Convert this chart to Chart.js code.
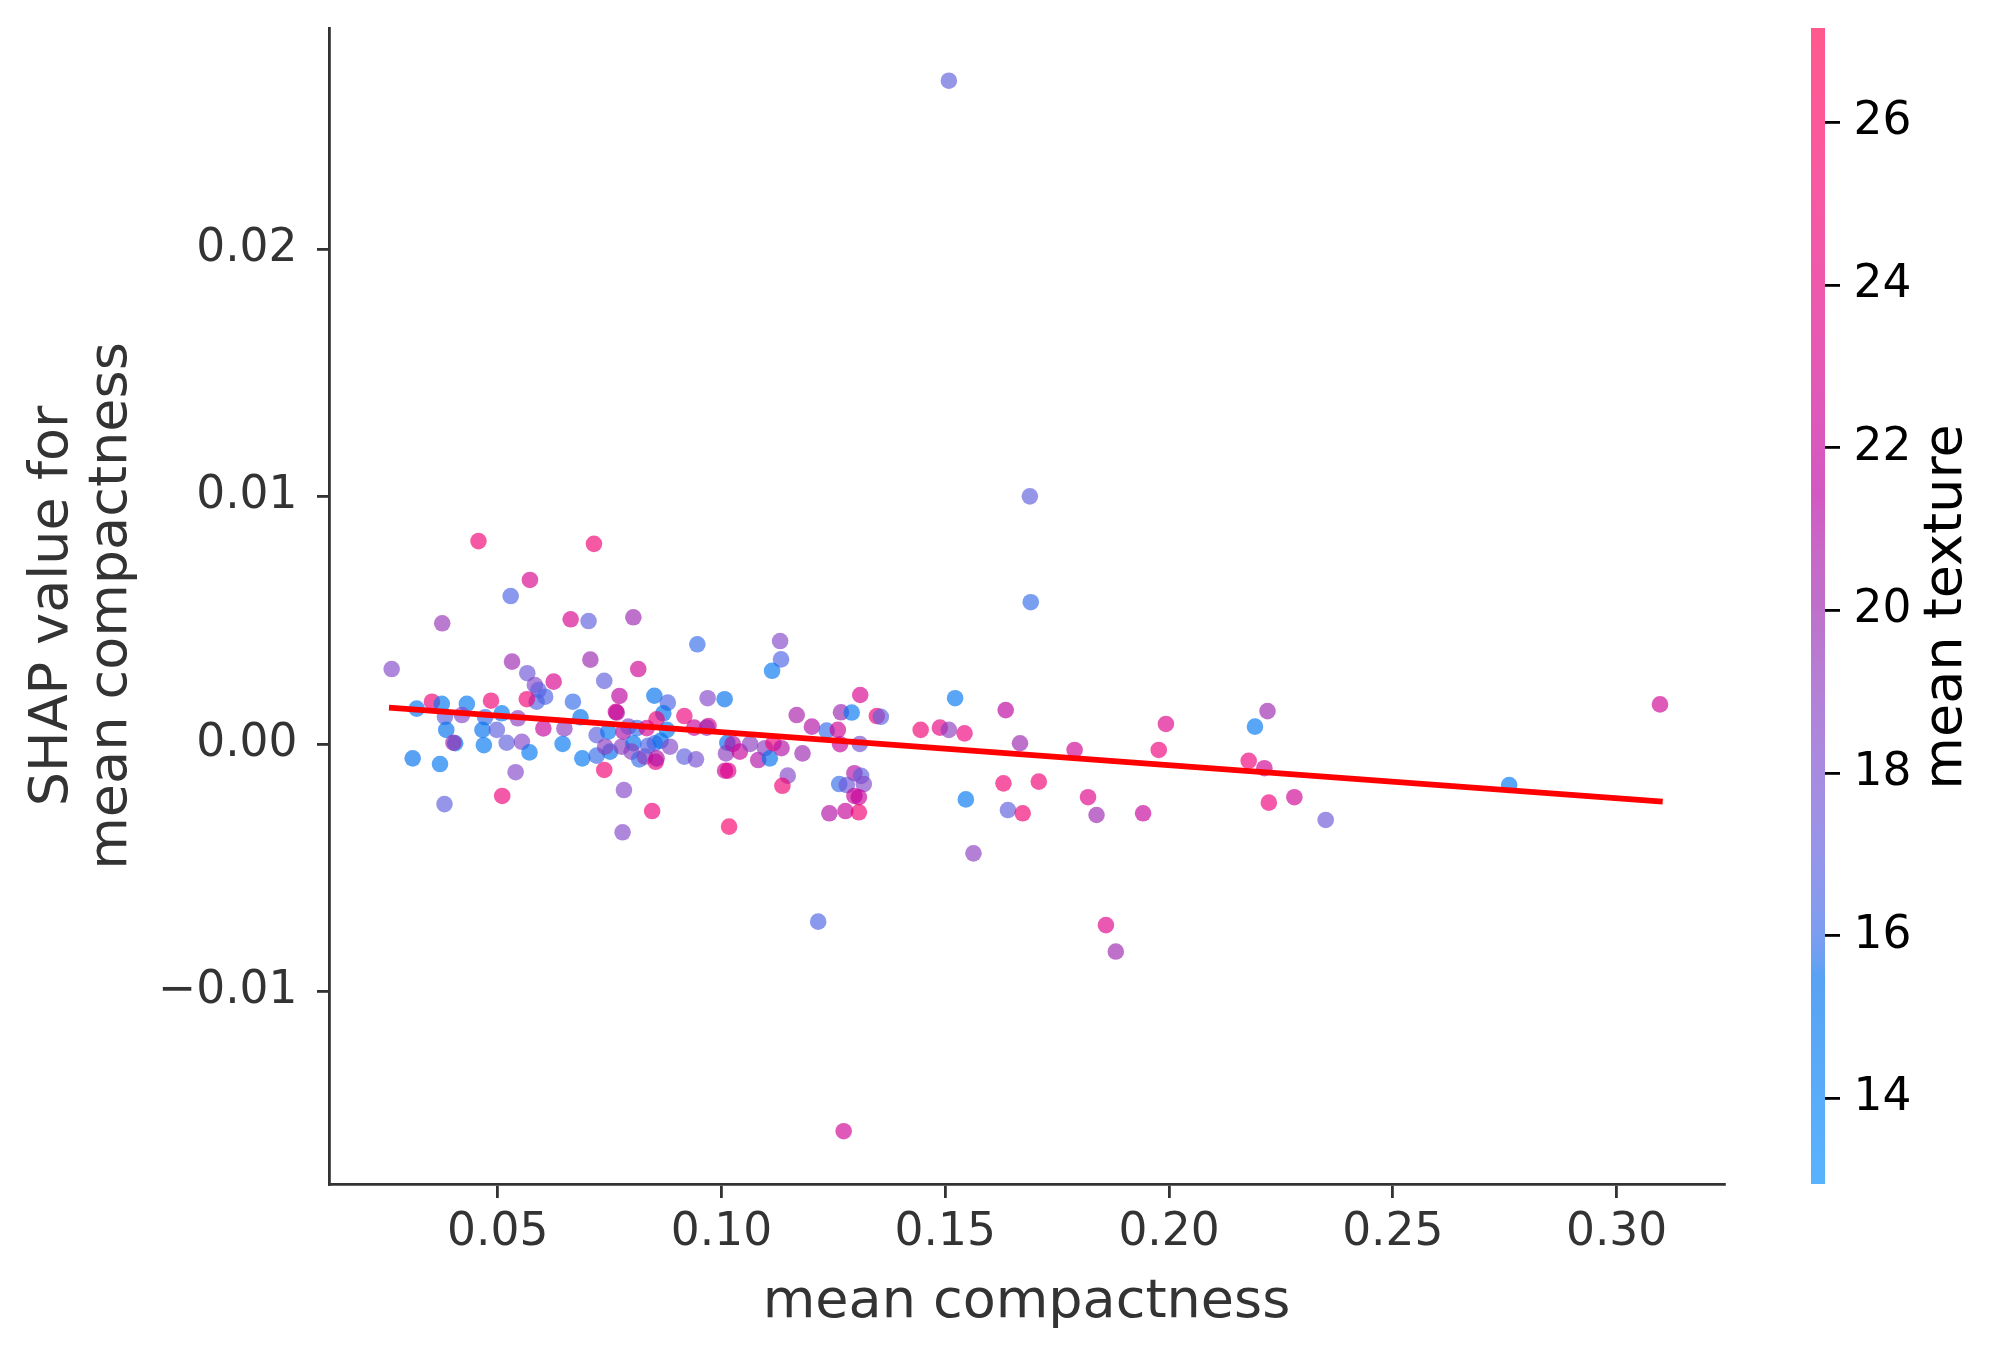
<!DOCTYPE html>
<html>
<head>
<meta charset="utf-8">
<script src="https://cdn.jsdelivr.net/npm/chart.js@4.4.0/dist/chart.umd.min.js"></script>
<style>
html,body{margin:0;padding:0;background:#ffffff;}
#wrap{width:2011px;height:1357px;position:relative;}
canvas{display:block;}
</style>
</head>
<body>
<div id="wrap"><canvas id="c" width="2011" height="1357"></canvas></div>
<script>
// ---------------- data ----------------
const compactness = [
0.0572,0.0529,0.0376,0.0663,0.0703,0.0803,0.0946,0.1131,0.1133,0.1113,
0.0263,0.0532,0.0707,0.0814,0.0566,0.0738,0.0625,0.0583,0.0591,0.0606,
0.0587,0.0565,0.0772,0.0850,0.0880,0.0969,0.1007,0.0870,0.0353,0.0375,
0.0319,0.0431,0.0485,0.0509,0.0420,0.0382,0.0472,0.0545,0.0668,0.0685,
0.0602,0.0649,0.0766,0.0764,0.0385,0.0466,0.0498,0.0721,0.0747,0.0781,
0.0792,0.0811,0.0833,0.0855,0.0878,0.0917,0.0939,0.0971,0.0967,0.1168,
0.1202,0.0405,0.0401,0.0469,0.0520,0.0554,0.0571,0.0645,0.0310,0.0371,
0.0689,0.0721,0.0751,0.0740,0.0777,0.0803,0.0799,0.0816,0.0829,0.0836,
0.0851,0.0853,0.0855,0.0864,0.0885,0.0917,0.0943,0.1013,0.1010,0.1025,
0.1041,0.1064,0.1082,0.1097,0.1108,0.1116,0.1134,0.1181,0.1008,0.1015,
0.1148,0.1136,0.0738,0.0540,0.0782,0.0510,0.0381,0.0845,0.1017,0.0779,
0.1216,
0.1691,0.1310,0.1522,0.1635,0.1267,0.1291,0.1347,0.1356,0.1235,0.1260,
0.1445,0.1488,0.1508,0.1543,0.1993,0.2192,0.2220,0.1667,0.1789,0.1977,
0.2178,0.2213,0.1265,0.1309,0.1297,0.1312,0.1263,0.1280,0.1318,0.1297,
0.1307,0.1241,0.1277,0.1307,0.1630,0.1709,0.1546,0.1640,0.1673,0.1819,
0.1838,0.1942,0.2223,0.2280,0.1563,0.1859,
0.2350,0.2760,0.3097,
0.1508,0.1689,0.0457,0.0715,0.1273,0.1881
];
const shapValues = [
0.00663,0.00598,0.00488,0.00504,0.00497,0.00512,0.00403,0.00416,0.00342,0.00296,
0.00303,0.00333,0.00341,0.00303,0.00286,0.00255,0.00252,0.00238,0.00218,0.00191,
0.00171,0.00181,0.00194,0.00195,0.00167,0.00185,0.00181,0.00124,0.00171,0.00162,
0.00143,0.00162,0.00175,0.00124,0.00117,0.00110,0.00108,0.00104,0.00171,0.00108,
0.00063,0.00063,0.00127,0.00130,0.00057,0.00057,0.00057,0.00036,0.00050,0.00050,
0.00070,0.00064,0.00064,0.00100,0.00057,0.00113,0.00066,0.00073,0.00066,0.00117,
0.00070,0.00003,0.00005,-0.00005,0.00005,0.00009,-0.00034,0.00000,-0.00058,-0.00081,
-0.00058,-0.00047,-0.00031,-0.00011,-0.00011,0.00003,-0.00031,-0.00062,-0.00051,-0.00007,
0.00003,-0.00072,-0.00058,0.00013,-0.00011,-0.00051,-0.00062,0.00005,-0.00038,0.00000,
-0.00031,0.00000,-0.00065,-0.00017,-0.00058,0.00003,-0.00017,-0.00038,-0.00108,-0.00108,
-0.00128,-0.00169,-0.00105,-0.00114,-0.00186,-0.00210,-0.00243,-0.00271,-0.00334,-0.00357,
-0.00718,
0.00573,0.00198,0.00185,0.00137,0.00128,0.00127,0.00113,0.00110,0.00054,0.00057,
0.00057,0.00066,0.00057,0.00043,0.00081,0.00070,0.00133,0.00003,-0.00024,-0.00024,
-0.00068,-0.00098,-0.00001,0.00000,-0.00118,-0.00129,-0.00162,-0.00166,-0.00162,-0.00210,
-0.00215,-0.00280,-0.00271,-0.00276,-0.00159,-0.00152,-0.00224,-0.00267,-0.00280,-0.00215,
-0.00287,-0.00280,-0.00237,-0.00215,-0.00442,-0.00732,
-0.00307,-0.00166,0.00160,
0.02681,0.01001,0.00820,0.00809,-0.01565,-0.00839
];
const texture = [
23,16.5,19.5,23,17,20,16,18.5,16.5,15,
18.5,20,20,22.5,17.5,17,23,18.5,17,16.5,
16.5,25,21.5,15.5,16.5,18.5,15.5,15.5,25,15,
15,15,25,15,18.5,17,16,19,16,15.5,
22,19,20.5,22.5,15.5,15.5,17,17,15,21,
18.5,16,23,24.5,15,24.5,22,23,20,20.5,
21,15,20,15,17,18.5,15,15,15.5,15,
15,16,15.5,19,19,15.5,19,16,19,16.5,
16.5,24,21,15.5,18.5,17,18,15.5,19,21,
22,19,21,19,15.5,24.5,21,20,22.5,23.5,
18.5,25,25,18.5,18.5,24.5,17,24.5,25.5,18.5,
16.5,
16,23,15,21.5,20,15,25,17,16,22.5,
25,24,19,24.5,23.5,15,20,20,22.5,24.5,
24.5,22.5,22,18,21,17,16,17.5,18.5,22,
22,21,22,25,25,25,15,17,25,23.5,
20,22,24.5,22.5,19,23.5,
17.5,15,22.5,
17,17,25,25,22.5,20
];
const fitLineX = [0.0257, 0.3103];
const fitLineY = [0.00147, -0.00233];

const xTicks = [0.05, 0.10, 0.15, 0.20, 0.25, 0.30];
const xTickLabels = ['0.05', '0.10', '0.15', '0.20', '0.25', '0.30'];
const yTicks = [-0.01, 0.00, 0.01, 0.02];
const yTickLabels = ['\u22120.01', '0.00', '0.01', '0.02'];
const cbTicks = [14, 16, 18, 20, 22, 24, 26];
const cbTickLabels = ['14', '16', '18', '20', '22', '24', '26'];

const xRange = [0.0123, 0.3240];
const yRange = [-0.017785, 0.02894];
const cbRange = [12.95, 27.16];

// ---------------- SHAP red_blue colormap (LCH interpolation) ----------------
function lch2rgb(L, C, h) {
  const a = C * Math.cos(h), b = C * Math.sin(h);
  const fy = (L + 16) / 116;
  const fx = a / 500 + fy;
  let fz = fy - b / 200;
  if (fz < 0) fz = 0;
  const finv = t => t > 0.2068966 ? t * t * t : (t - 16 / 116) / 7.787;
  const X = 0.95047 * finv(fx), Y = 1.0 * finv(fy), Z = 1.08883 * finv(fz);
  const r = 3.24048134 * X - 1.53715152 * Y - 0.49853633 * Z;
  const g = -0.96925495 * X + 1.87599 * Y + 0.04155593 * Z;
  const bl = 0.05564664 * X - 0.20404134 * Y + 1.05731107 * Z;
  const gam = c => c > 0.0031308 ? 1.055 * Math.pow(c, 1 / 2.4) - 0.055 : 12.92 * c;
  return [r, g, bl].map(c => Math.min(1, Math.max(0, gam(c))));
}
function redBlue(t) {
  t = Math.min(1, Math.max(0, t));
  const L = t < 0.5 ? 54 - 28 * t : 40 + 28 * (t - 0.5);
  const C = 70 + 20 * t;
  const h = 4.6588 + t * (0.35470565 + 2 * Math.PI - 4.6588);
  return lch2rgb(L, C, h);
}
const ALPHA = 0.65;
function textureColor(v, alpha) {
  const t = (v - cbRange[0]) / (cbRange[1] - cbRange[0]);
  const c = redBlue(t);
  return 'rgba(' + Math.round(c[0] * 255) + ',' + Math.round(c[1] * 255) + ',' + Math.round(c[2] * 255) + ',' + alpha + ')';
}

const FONT = 'DejaVu Sans';

function noPad(s) {
  s.paddingTop = 0; s.paddingBottom = 0; s.paddingLeft = 0; s.paddingRight = 0;
}

const bgPlugin = {
  id: 'bg',
  beforeDraw(chart) {
    const ctx = chart.ctx;
    ctx.save();
    ctx.fillStyle = '#ffffff';
    ctx.fillRect(0, 0, chart.width, chart.height);
    ctx.restore();
  }
};

const colorbarPlugin = {
  id: 'colorbar',
  afterDraw(chart) {
    const s = chart.scales.cb;
    const ctx = chart.ctx;
    const barW = 14;
    const x1 = s.left;
    const x0 = x1 - barW;
    const yTop = s.getPixelForValue(cbRange[1]);
    const yBot = s.getPixelForValue(cbRange[0]);
    ctx.save();
    const grad = ctx.createLinearGradient(0, yBot, 0, yTop);
    const n = 100;
    for (let i = 0; i <= n; i++) {
      const v = cbRange[0] + (cbRange[1] - cbRange[0]) * i / n;
      grad.addColorStop(i / n, textureColor(v, ALPHA));
    }
    ctx.fillStyle = grad;
    ctx.fillRect(x0, yTop, barW, yBot - yTop);
    // colorbar label
    ctx.translate(s.left + 121.5, (s.top + s.bottom) / 2 + 1);
    ctx.rotate(-Math.PI / 2);
    ctx.font = '54px "' + FONT + '"';
    ctx.fillStyle = '#000000';
    ctx.textAlign = 'center';
    ctx.textBaseline = 'middle';
    ctx.fillText('mean texture', 0, 0);
    ctx.restore();
  }
};

new Chart(document.getElementById('c'), {
  data: {
    datasets: [
      {
        type: 'line',
        data: fitLineX.map((x, i) => ({x: x, y: fitLineY[i]})),
        borderColor: '#ff0000',
        borderWidth: 5.8,
        pointRadius: 0,
        fill: false,
        tension: 0,
        order: 0,
        xAxisID: 'x', yAxisID: 'y'
      },
      {
        type: 'scatter',
        data: compactness.map((x, i) => ({x: x, y: shapValues[i]})),
        backgroundColor: texture.map(v => textureColor(v, ALPHA)),
        borderWidth: 0,
        pointRadius: 8.3,
        pointHoverRadius: 8.3,
        order: 1,
        xAxisID: 'x', yAxisID: 'y'
      }
    ]
  },
  options: {
    responsive: false,
    animation: false,
    devicePixelRatio: 1,
    events: [],
    layout: { padding: {top: 28, left: 0, right: 0, bottom: 0}, autoPadding: false },
    plugins: { legend: {display: false}, tooltip: {enabled: false} },
    scales: {
      x: {
        type: 'linear', position: 'bottom',
        min: xRange[0], max: xRange[1],
        afterBuildTicks: s => { s.ticks = xTicks.map(v => ({value: v})); },
        afterFit: s => { s.height = 173; noPad(s); },
        ticks: {
          callback: (v, i) => xTickLabels[i],
          font: {family: FONT, size: 45.5, lineHeight: 1.2},
          color: '#333333', padding: 8, maxRotation: 0, autoSkip: false
        },
        grid: { drawOnChartArea: false, drawTicks: true, tickLength: 14, color: '#333333', lineWidth: 2.8 },
        border: { display: true, color: '#333333', width: 2.8 },
        title: {
          display: true, text: 'mean compactness', color: '#333333',
          font: {family: FONT, size: 54, lineHeight: 1.2},
          padding: {top: 0, bottom: 21.6}
        }
      },
      y: {
        type: 'linear', position: 'left',
        min: yRange[0], max: yRange[1],
        afterBuildTicks: s => { s.ticks = yTicks.map(v => ({value: v})); },
        afterFit: s => { s.width = 329; noPad(s); },
        ticks: {
          callback: (v, i) => yTickLabels[i],
          font: {family: FONT, size: 45.5, lineHeight: 1.2},
          color: '#333333', padding: 19.5, autoSkip: false
        },
        grid: { drawOnChartArea: false, drawTicks: true, tickLength: 12, color: '#333333', lineWidth: 2.8 },
        border: { display: true, color: '#333333', width: 2.8 },
        title: {
          display: true, text: ['SHAP value for', 'mean compactness'], color: '#333333',
          font: {family: FONT, size: 54, lineHeight: 1.0926},
          padding: {top: 23.5, bottom: 0}
        }
      },
      gap: {
        type: 'linear', position: 'right', weight: 0,
        min: 0, max: 1, display: true,
        afterFit: s => { s.width = 101; noPad(s); },
        ticks: {display: false},
        grid: {display: false},
        border: {display: false}
      },
      cb: {
        type: 'linear', position: 'right', weight: 1,
        min: cbRange[0], max: cbRange[1],
        afterBuildTicks: s => { s.ticks = cbTicks.map(v => ({value: v})); },
        afterFit: s => { s.width = 186; noPad(s); },
        ticks: {
          callback: (v, i) => cbTickLabels[i],
          font: {family: FONT, size: 45.5, lineHeight: 1.2},
          color: '#000000', padding: 13.5, autoSkip: false
        },
        grid: { drawOnChartArea: false, drawTicks: true, tickLength: 15, color: '#000000', lineWidth: 2.8 },
        border: {display: false}
      }
    }
  },
  plugins: [bgPlugin, colorbarPlugin]
});
</script>
</body>
</html>
